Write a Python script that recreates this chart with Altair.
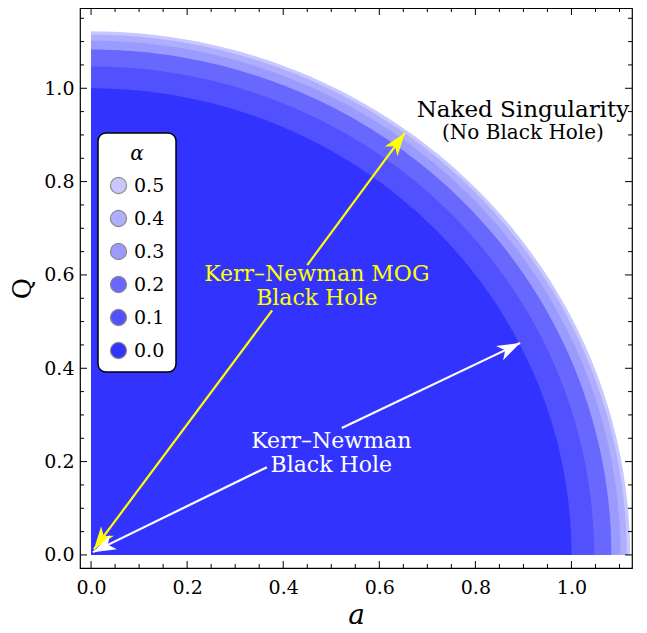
import numpy as np
import pandas as pd
import altair as alt

# ---- data ----
alphas = ["0.0", "0.1", "0.2", "0.3", "0.4", "0.5"]
radii = [1.0, 1.047, 1.083, 1.102, 1.115, 1.122]
colors = ["#3333ff", "#5151ff", "#6868ff", "#9a9aff", "#aeaeff", "#c8c8ff"]

x_major = [0.0, 0.2, 0.4, 0.6, 0.8, 1.0]
y_major = [0.0, 0.2, 0.4, 0.6, 0.8, 1.0]
x_minor = [0.05, 0.1, 0.15, 0.25, 0.3, 0.35, 0.45, 0.5, 0.55, 0.65, 0.7, 0.75,
           0.85, 0.9, 0.95, 1.05, 1.1]
y_minor = [0.05, 0.1, 0.15, 0.25, 0.3, 0.35, 0.45, 0.5, 0.55, 0.65, 0.7, 0.75,
           0.85, 0.9, 0.95, 1.05, 1.1, 1.15]

# arrow segments (a, Q) -> (a2, Q2)
seg_color = ["yellow", "yellow", "white", "white"]
seg_x = [0.006, 0.450, 0.004, 0.522]
seg_y = [0.012, 0.621, 0.006, 0.272]
seg_x2 = [0.377, 0.653, 0.366, 0.893]
seg_y2 = [0.524, 0.904, 0.188, 0.454]

# arrow heads
head_color = ["yellow", "yellow", "white", "white"]
head_x = [0.653, 0.006, 0.893, 0.004]
head_y = [0.904, 0.012, 0.454, 0.006]
head_angle = [36.6, 216.6, 63.9, 243.9]

XDOM = [-0.023, 1.126]
YDOM = [-0.028, 1.172]
W, H = 552, 560
FONT = "DejaVu Serif"

xs = alt.Scale(domain=XDOM, nice=False, zero=False)
ys = alt.Scale(domain=YDOM, nice=False, zero=False)

# ---- regions ----
rows = []
t = np.linspace(0, np.pi / 2, 120)
for al, r in zip(alphas, radii):
    for tt in t:
        rows.append({"alpha": al, "a": float(r * np.cos(tt)), "Q": float(r * np.sin(tt)), "z": 0.0})
reg = pd.DataFrame(rows)

color_scale = alt.Scale(domain=alphas[::-1], range=colors[::-1])

layers = []
for i, al in enumerate(alphas[::-1]):
    sub = reg[reg.alpha == al].sort_values("a").reset_index(drop=True)
    enc = dict(
        x=alt.X("a:Q", scale=xs, axis=alt.Axis(values=x_major, format=".1f", title="a",
                                               titleFontStyle="italic", titleFontSize=28,
                                               titleFontWeight="normal", titlePadding=4)),
        y=alt.Y("Q:Q", scale=ys, axis=alt.Axis(values=y_major, format=".1f", title="Q",
                                               titleFontSize=26, titleFontWeight="normal",
                                               titlePadding=8, labelPadding=6)),
        y2=alt.Y2("z:Q"),
    )
    if i == 0:
        enc["color"] = alt.Color("alpha:N", scale=color_scale, legend=alt.Legend(
            title="α", orient="none", legendX=18, legendY=125,
            symbolType="circle", symbolSize=260, symbolStrokeColor="#8a8a8a",
            symbolStrokeWidth=1.2, symbolOpacity=1,
            fillColor="white", strokeColor="black",
            cornerRadius=8, padding=11, rowPadding=12, titlePadding=12,
            titleFont=FONT, titleFontSize=20, titleFontStyle="italic",
            titleFontWeight="normal", titleAnchor="middle", titleAlign="center",
            labelFont=FONT, labelFontSize=19, labelColor="black", titleColor="black",
            labelOffset=6))
    else:
        enc["color"] = alt.Color("alpha:N", scale=color_scale, legend=None)
    layers.append(alt.Chart(sub).mark_area(opacity=1, interpolate="linear").encode(**enc))

# ---- arrows ----
segs = pd.DataFrame({"c": seg_color, "x": seg_x, "y": seg_y, "x2": seg_x2, "y2": seg_y2})
seg_layer = alt.Chart(segs).mark_rule(strokeWidth=2.2).encode(
    x=alt.X("x:Q", scale=xs), y=alt.Y("y:Q", scale=ys), x2="x2:Q", y2="y2:Q",
    color=alt.Color("c:N", scale=None))

heads = pd.DataFrame({"c": head_color, "x": head_x, "y": head_y, "ang": head_angle})
head_layer = alt.Chart(heads).mark_point(
    shape="M0,0 L-0.7,2 L0,1.45 L0.7,2 Z", filled=True, opacity=1, size=520, strokeWidth=0
).encode(
    x=alt.X("x:Q", scale=xs), y=alt.Y("y:Q", scale=ys),
    angle=alt.Angle("ang:Q", scale=None), color=alt.Color("c:N", scale=None))

# ---- texts ----
txt = pd.DataFrame({
    "t": ["Kerr–Newman MOG\nBlack Hole", "Kerr–Newman\nBlack Hole"],
    "x": [0.470, 0.500], "y": [0.603, 0.245], "c": ["yellow", "white"]})
txt_layer = alt.Chart(txt).mark_text(font=FONT, fontSize=22, lineBreak="\n", lineHeight=24,
                                     align="center", baseline="middle").encode(
    x=alt.X("x:Q", scale=xs), y=alt.Y("y:Q", scale=ys), text="t:N",
    color=alt.Color("c:N", scale=None))

ns = pd.DataFrame({"t": ["Naked Singularity"], "x": [0.899], "y": [0.953]})
ns_layer = alt.Chart(ns).mark_text(font=FONT, fontSize=23, color="black",
                                   align="center", baseline="middle").encode(
    x=alt.X("x:Q", scale=xs), y=alt.Y("y:Q", scale=ys), text="t:N")
nb = pd.DataFrame({"t": ["(No Black Hole)"], "x": [0.899], "y": [0.904]})
nb_layer = alt.Chart(nb).mark_text(font=FONT, fontSize=20, color="black",
                                   align="center", baseline="middle").encode(
    x=alt.X("x:Q", scale=xs), y=alt.Y("y:Q", scale=ys), text="t:N")


# ---- frame ticks (inward) ----
def xticks(vals, L):
    d = pd.DataFrame({"v": vals})
    return [
        alt.Chart(d).mark_rule(color="black", strokeWidth=1).encode(
            x=alt.X("v:Q", scale=xs), y=alt.value(H), y2=alt.value(H - L)),
        alt.Chart(d).mark_rule(color="black", strokeWidth=1).encode(
            x=alt.X("v:Q", scale=xs), y=alt.value(0), y2=alt.value(L)),
    ]


def yticks(vals, L):
    d = pd.DataFrame({"v": vals})
    return [
        alt.Chart(d).mark_rule(color="black", strokeWidth=1).encode(
            y=alt.Y("v:Q", scale=ys), x=alt.value(0), x2=alt.value(L)),
        alt.Chart(d).mark_rule(color="black", strokeWidth=1).encode(
            y=alt.Y("v:Q", scale=ys), x=alt.value(W), x2=alt.value(W - L)),
    ]


tick_layers = xticks(x_major, 7) + xticks(x_minor, 4) + yticks(y_major, 7) + yticks(y_minor, 4)

chart = alt.layer(*layers, seg_layer, head_layer, txt_layer, ns_layer, nb_layer, *tick_layers).properties(
    width=W, height=H,
    padding={"left": 72, "top": 0, "right": 7, "bottom": 64},
    autosize=alt.AutoSizeParams(type="none"),
    background="white",
).configure_view(stroke="black", strokeWidth=1.2).configure_axis(
    labelFont=FONT, labelFontSize=19, labelColor="black", titleFont=FONT, titleColor="black",
    ticks=False, domain=False, grid=False, labelPadding=10,
).configure_legend(strokeWidth=1.5)

chart.save("out.html", embed_options={"renderer": "svg", "actions": False})
